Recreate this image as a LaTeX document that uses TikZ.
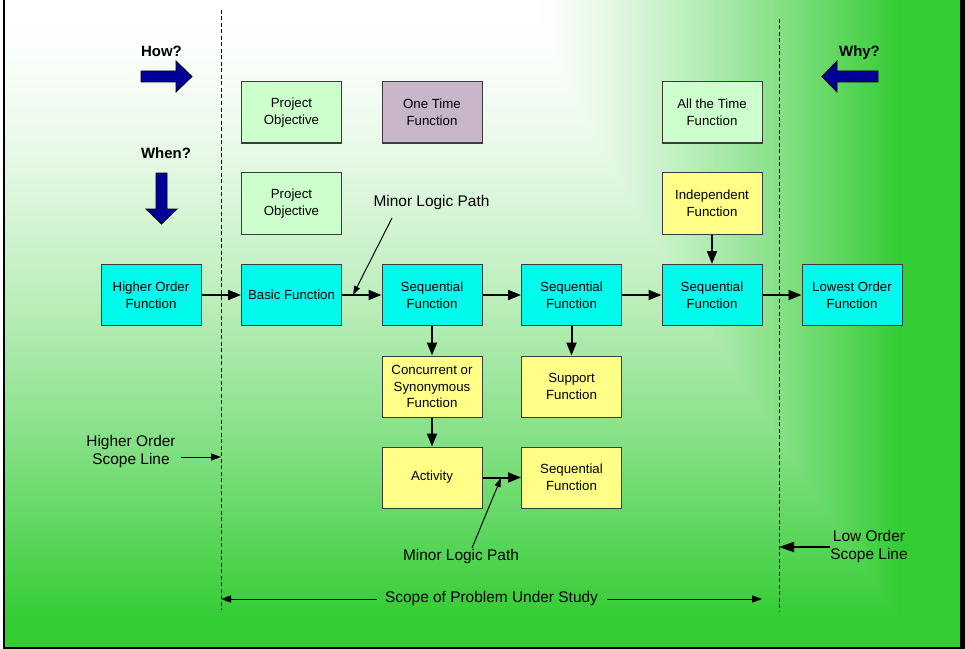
\documentclass[tikz,border=0pt]{standalone}
\usepackage{fontspec}
\setmainfont{Liberation Sans}
\usetikzlibrary{arrows.meta}
\definecolor{boxcyan}{RGB}{0,250,235}
\definecolor{boxgreen}{RGB}{204,255,204}
\definecolor{boxpurple}{RGB}{201,181,201}
\definecolor{boxyellow}{RGB}{255,255,136}
\definecolor{boxline}{RGB}{60,60,60}
\definecolor{navyblue}{RGB}{0,0,153}
\pgfdeclarefunctionalshading{bgfun}{\pgfpointorigin}{\pgfpoint{965bp}{649bp}}{}{
  649 exch sub 620 div
  dup 1 gt {pop 1} if
  dup 0 lt {pop 0} if
  1.5 exp
  exch
  530 sub 370 div
  dup 0 lt {pop 0} if
  dup 1 gt {pop 1} if
  1.3 exp
  2 copy lt {exch} if pop
  dup 0.8 mul 1 exch sub
  exch dup 0.2 mul 1 exch sub
  exch 0.8 mul 1 exch sub
}
\tikzset{
  fbox/.style={draw=boxline, line width=1bp, minimum width=100bp, minimum height=61bp,
    inner sep=2bp, align=center, font=\fontsize{13.3}{16.6}\selectfont},
  conn/.style={line width=2bp, -{Triangle[length=13bp,width=10bp]}},
  thinarr/.style={line width=1bp, -{Triangle[length=10bp,width=7bp]}},
  minorarr/.style={line width=1bp, -{Triangle[length=9bp,width=6bp]}},
  lbl/.style={align=center, font=\fontsize{15.5}{19}\selectfont, inner sep=0pt},
  qlbl/.style={font=\bfseries\fontsize{15}{18}\selectfont, inner sep=0pt},
  blockarr/.style={fill=navyblue, draw=black, line width=0.8bp, line join=miter},
  scopeline/.style={dash pattern=on 4bp off 2.5bp, line width=1bp}
}
\begin{document}
\begin{tikzpicture}[x=1bp, y=-1bp]
\useasboundingbox (0,0) rectangle (965,649);
% background
\node[inner sep=0pt, outer sep=0pt, anchor=south west] (bg) at (0,649) {\pgfuseshading{bgfun}};
\fill[white] (0,0) rectangle (3.3,649);
\fill[black] (3.3,0) rectangle (5.3,649);
\fill[black] (3.3,646.5) rectangle (965,649);
\fill[black] (960,0) rectangle (965,649);

% scope lines
\coordinate (dl1t) at (221,10);
\coordinate (dl1b) at (221,610);
\coordinate (dl2t) at (779,19);
\coordinate (dl2b) at (779,612);
\draw[scopeline] (dl1t) -- (dl1b);
\draw[scopeline] (dl2t) -- (dl2b);

% question labels and block arrows
\node[qlbl] (how) at (161.5,51) {How?};
\node[qlbl] (when) at (166,153) {When?};
\node[qlbl] (why) at (859.5,53) {Why?};
\draw[blockarr] (141,71) -- (176,71) -- (176,61) -- (192,76.5) -- (176,92) -- (176,82) -- (141,82) -- cycle;
\draw[blockarr] (156,173) -- (167,173) -- (167,209) -- (177,209) -- (161.5,224) -- (146,209) -- (156,209) -- cycle;
\draw[blockarr] (878,71) -- (837,71) -- (837,61) -- (822,76.5) -- (837,92) -- (837,82) -- (878,82) -- cycle;

% boxes
\node[fbox, fill=boxgreen] (po1) at (291.5,112.5) {Project\\Objective};
\node[fbox, fill=boxpurple] (ot) at (432,112.5) {One Time\\Function};
\node[fbox, fill=boxgreen] (att) at (712,112.5) {All the Time\\Function};
\node[fbox, fill=boxgreen] (po2) at (291.5,203.5) {Project\\Objective};
\node[fbox, fill=boxyellow] (ind) at (712,203.5) {Independent\\Function};
\node[fbox, fill=boxcyan] (ho) at (151,295) {Higher Order\\Function};
\node[fbox, fill=boxcyan] (bf) at (291.5,295) {Basic Function};
\node[fbox, fill=boxcyan] (s1) at (432,295) {Sequential\\Function};
\node[fbox, fill=boxcyan] (s2) at (571.5,295) {Sequential\\Function};
\node[fbox, fill=boxcyan] (s3) at (712,295) {Sequential\\Function};
\node[fbox, fill=boxcyan] (lo) at (852,295) {Lowest Order\\Function};
\node[fbox, fill=boxyellow] (cc) at (432,386.5) {Concurrent or\\Synonymous\\Function};
\node[fbox, fill=boxyellow] (sp) at (571.5,386.5) {Support\\Function};
\node[fbox, fill=boxyellow] (ac) at (432,477.5) {Activity};
\node[fbox, fill=boxyellow] (s4) at (571.5,477.5) {Sequential\\Function};

% connectors
\draw[conn] (ho) -- (bf);
\draw[conn] (bf) -- (s1);
\draw[conn] (s1) -- (s2);
\draw[conn] (s2) -- (s3);
\draw[conn] (s3) -- (lo);
\draw[conn] (ind) -- (s3);
\draw[conn] (s1) -- (cc);
\draw[conn] (cc) -- (ac);
\draw[conn] (s2) -- (sp);
\draw[conn] (ac) -- (s4);

% minor logic paths
\node[lbl] (ml1) at (431.5,203) {Minor Logic Path};
\coordinate (ml1s) at (392,218);
\coordinate (ml1e) at (353,295);
\draw[minorarr] (ml1s) -- (ml1e);
\node[lbl] (ml2) at (461,557) {Minor Logic Path};
\coordinate (ml2s) at (472,548);
\coordinate (ml2e) at (501,478);
\draw[minorarr] (ml2s) -- (ml2e);

% scope line labels
\node[lbl] (hsl) at (131,451.5) {Higher Order\\Scope Line};
\coordinate (hsla) at (181,457);
\coordinate (hslb) at (221,457);
\draw[thinarr] (hsla) -- (hslb);
\node[lbl] (lsl) at (869,546.5) {Low Order\\Scope Line};
\coordinate (lsla) at (830,547);
\coordinate (lslb) at (779,547);
\draw[line width=2bp, -{Triangle[length=15bp,width=10bp]}] (lsla) -- (lslb);

% scope of problem
\node[lbl] (sop) at (491.5,599) {Scope of Problem Under Study};
\coordinate (sopl1) at (377,599);
\coordinate (sopl2) at (221,599);
\coordinate (sopr1) at (607,599);
\coordinate (sopr2) at (762,599);
\draw[thinarr] (sopl1) -- (sopl2);
\draw[thinarr] (sopr1) -- (sopr2);
\end{tikzpicture}
\end{document}
